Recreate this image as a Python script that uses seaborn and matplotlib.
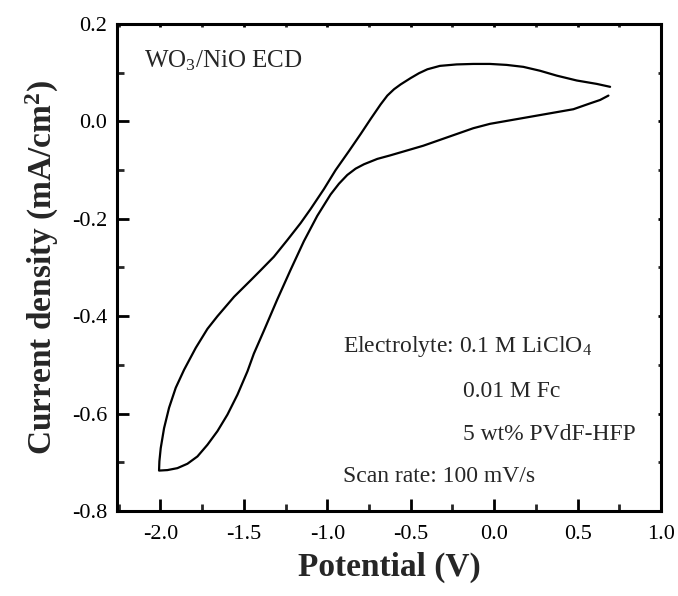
import matplotlib
matplotlib.use("Agg")
import matplotlib.pyplot as plt
from matplotlib.ticker import MultipleLocator, FormatStrFormatter
import seaborn as sns
import pandas as pd

# Cyclic voltammogram (one continuous path)
potential = [0.695, 0.615, 0.495, 0.375, 0.275, 0.175, 0.075, -0.025, -0.125,
             -0.225, -0.325, -0.400, -0.450, -0.500, -0.560, -0.600, -0.640,
             -0.680, -0.740, -0.800, -0.870, -0.950, -1.020, -1.100, -1.160,
             -1.240, -1.320, -1.400, -1.458, -1.558, -1.658, -1.718, -1.788,
             -1.858, -1.908, -1.948, -1.978, -1.998, -2.006, -2.008,
             -1.958, -1.898, -1.838, -1.778, -1.718, -1.658, -1.598, -1.538,
             -1.478, -1.440, -1.380, -1.300, -1.220, -1.140, -1.060, -0.980,
             -0.930, -0.880, -0.830, -0.780, -0.700, -0.625, -0.525, -0.425,
             -0.325, -0.225, -0.125, -0.025, 0.075, 0.175, 0.275, 0.375,
             0.475, 0.575, 0.635, 0.685]
current = [0.071, 0.077, 0.084, 0.094, 0.104, 0.112, 0.116, 0.118, 0.118,
           0.117, 0.114, 0.107, 0.099, 0.089, 0.076, 0.066, 0.053,
           0.035, 0.005, -0.026, -0.061, -0.100, -0.139, -0.180, -0.209,
           -0.244, -0.278, -0.306, -0.326, -0.360, -0.400, -0.426, -0.465,
           -0.510, -0.547, -0.588, -0.630, -0.671, -0.698, -0.717,
           -0.716, -0.712, -0.703, -0.688, -0.664, -0.636, -0.602, -0.561,
           -0.513, -0.477, -0.430, -0.366, -0.305, -0.246, -0.194, -0.150,
           -0.128, -0.110, -0.097, -0.088, -0.077, -0.070, -0.060, -0.050,
           -0.038, -0.026, -0.014, -0.005, 0.001, 0.007, 0.013, 0.019,
           0.025, 0.037, 0.044, 0.053]
order = list(range(len(potential)))

x_ticks = [-2.0, -1.5, -1.0, -0.5, 0.0, 0.5, 1.0]
y_ticks = [-0.8, -0.6, -0.4, -0.2, 0.0, 0.2]

df = pd.DataFrame({"order": order, "Potential": potential, "Current": current})

sns.set_theme(style="ticks")
plt.rcParams["font.family"] = ["Liberation Serif", "DejaVu Serif"]
plt.rcParams["mathtext.fontset"] = "custom"
plt.rcParams["mathtext.rm"] = "Liberation Serif"
plt.rcParams["mathtext.it"] = "Liberation Serif:italic"
plt.rcParams["mathtext.bf"] = "Liberation Serif:bold"

fig = plt.figure(figsize=(6.78, 5.96), dpi=100)
ax = fig.add_axes([117 / 678, 1 - 511 / 596, (661 - 117) / 678, (511 - 24) / 596])

sns.lineplot(data=df, x="Potential", y="Current", sort=False, estimator=None,
             color="black", linewidth=1.6, ax=ax)
ax.lines[0].set_solid_joinstyle("round")

ax.set_xlim(-2.26, 1.0)
ax.set_ylim(-0.8, 0.2)
ax.set_xticks(x_ticks)
ax.set_yticks(y_ticks)
ax.xaxis.set_major_formatter(FormatStrFormatter("%.1f"))
ax.yaxis.set_major_formatter(FormatStrFormatter("%.1f"))
ax.xaxis.set_minor_locator(MultipleLocator(0.25))
ax.yaxis.set_minor_locator(MultipleLocator(0.1))

for s in ax.spines.values():
    s.set_linewidth(2.2)
    s.set_color("black")

ax.tick_params(which="major", direction="in", length=8.5, width=2.0,
               labelsize=16, colors="black", bottom=True, left=True,
               top=True, right=True)
ax.tick_params(which="minor", direction="in", length=5, width=2.0,
               bottom=True, left=True, top=True, right=True)
ax.tick_params(axis="x", which="major", pad=10)
ax.tick_params(axis="y", which="major", pad=7)
for t in ax.xaxis.get_major_ticks() + ax.xaxis.get_minor_ticks():
    t.tick2line.set_markersize(2)
for t in ax.yaxis.get_major_ticks() + ax.yaxis.get_minor_ticks():
    t.tick2line.set_markersize(2)

ax.set_xlabel("Potential (V)", fontsize=24, fontweight="bold", labelpad=6)
ax.set_ylabel(r"Current density (mA/cm$^\mathbf{2}$)", fontsize=24,
              fontweight="bold", labelpad=8)

def px(xp, yp):
    return ((xp - 117) / (661 - 117), (511 - yp) / (511 - 24))

ax.text(*px(144, 67), r"WO$_3$/NiO ECD", transform=ax.transAxes,
        fontsize=18, ha="left", va="baseline")
ax.text(*px(343, 352), r"Electrolyte: 0.1 M LiClO$_4$", transform=ax.transAxes,
        fontsize=17, ha="left", va="baseline")
ax.text(*px(463, 397), "0.01 M Fc", transform=ax.transAxes,
        fontsize=17, ha="left", va="baseline")
ax.text(*px(463, 440), "5 wt% PVdF-HFP", transform=ax.transAxes,
        fontsize=17, ha="left", va="baseline")
ax.text(*px(343, 482), "Scan rate: 100 mV/s", transform=ax.transAxes,
        fontsize=17, ha="left", va="baseline")

fig.savefig("out.png", dpi=100, facecolor="white")
